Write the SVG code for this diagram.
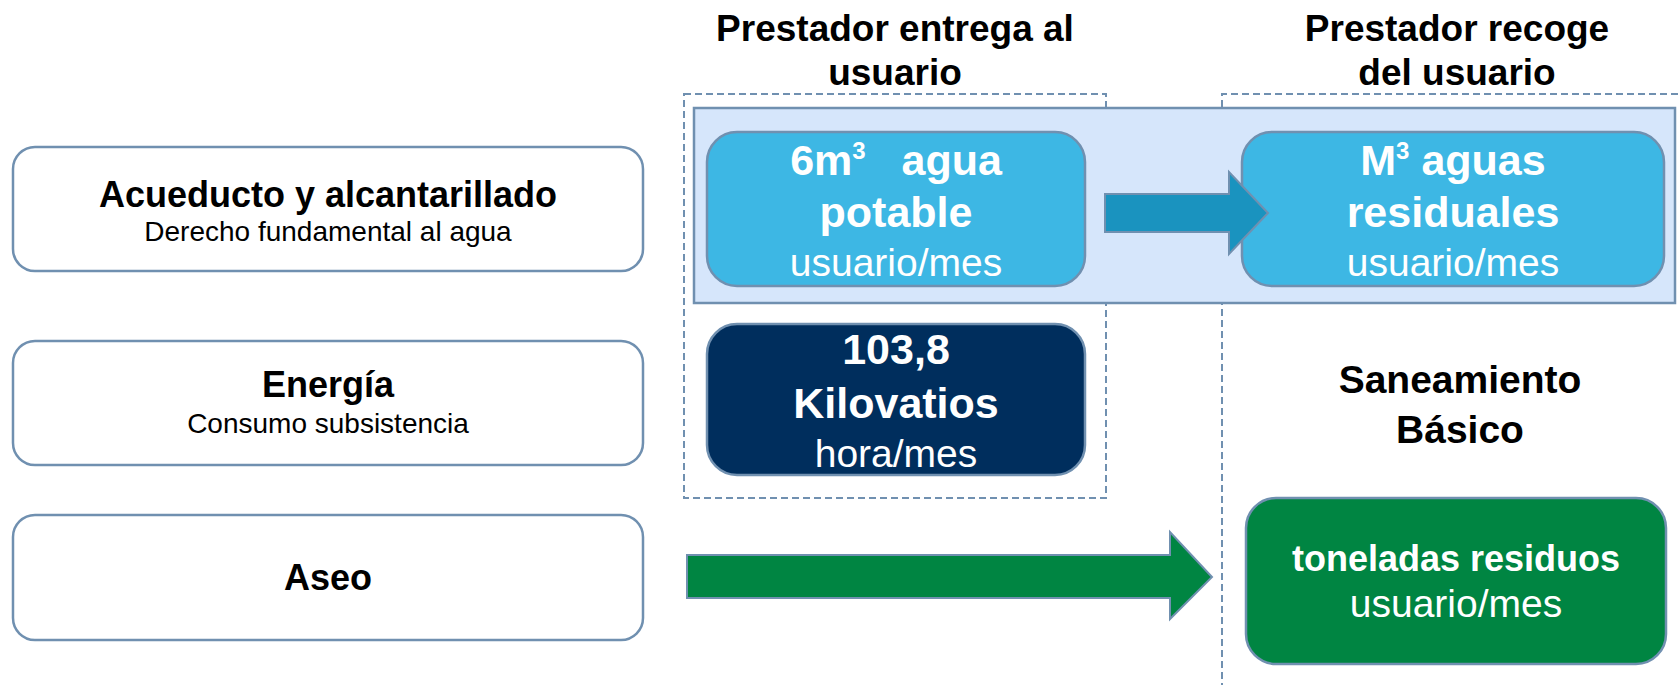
<svg xmlns="http://www.w3.org/2000/svg" width="1680" height="685" viewBox="0 0 1680 685">
<style>
.wb{fill:#ffffff;stroke:#7090b0;stroke-width:2.5}
.dash{fill:none;stroke:#7090b0;stroke-width:2;stroke-dasharray:7,4}
.b{font-family:"Liberation Sans",Arial,sans-serif;font-weight:bold;text-anchor:middle}
.r{font-family:"Liberation Sans",Arial,sans-serif;text-anchor:middle}
.k{fill:#000000}
.w{fill:#ffffff}
</style>
<rect width="1680" height="685" fill="#ffffff"/>
<g id="header1"><text class="b k" x="895" y="41" font-size="37">Prestador entrega al</text><text class="b k" x="895" y="85" font-size="37">usuario</text></g>
<g id="header2"><text class="b k" x="1457" y="41" font-size="37">Prestador recoge</text><text class="b k" x="1457" y="85" font-size="37">del usuario</text></g>
<g id="group-entrega"><rect class="dash" x="684" y="94" width="422" height="404"/></g>
<g id="group-recoge"><path class="dash" d="M1222,690 V94 H1685"/></g>
<g id="acueducto-band"><rect x="694" y="108" width="981" height="195" fill="#d6e6fb" stroke="#7090b0" stroke-width="2.5"/></g>
<g id="acueducto"><rect class="wb" x="13" y="147" width="630" height="124" rx="22"/><text class="b k" x="328" y="207" font-size="36">Acueducto y alcantarillado</text><text class="r k" x="328" y="241" font-size="28">Derecho fundamental al agua</text></g>
<g id="energia"><rect class="wb" x="13" y="341" width="630" height="124" rx="22"/><text class="b k" x="328" y="397" font-size="36">Energía</text><text class="r k" x="328" y="433" font-size="28">Consumo subsistencia</text></g>
<g id="aseo"><rect class="wb" x="13" y="515" width="630" height="125" rx="22"/><text class="b k" x="328" y="590" font-size="36">Aseo</text></g>
<g id="agua-potable"><rect x="707" y="132" width="378" height="154" rx="30" fill="#3db7e4" stroke="#7090b0" stroke-width="2.5"/><text class="b w" x="896" y="175" font-size="43">6m<tspan font-size="24" dy="-16">3</tspan><tspan dy="16" xml:space="preserve">   agua</tspan></text><text class="b w" x="896" y="227" font-size="43">potable</text><text class="r w" x="896" y="276" font-size="39">usuario/mes</text></g>
<g id="aguas-residuales"><rect x="1242" y="132" width="422" height="154" rx="30" fill="#3db7e4" stroke="#7090b0" stroke-width="2.5"/><text class="b w" x="1453" y="175" font-size="43">M<tspan font-size="24" dy="-16">3</tspan><tspan dy="16" xml:space="preserve"> aguas</tspan></text><text class="b w" x="1453" y="227" font-size="43">residuales</text><text class="r w" x="1453" y="276" font-size="39">usuario/mes</text></g>
<g id="energia-kwh"><rect x="707" y="324" width="378" height="151" rx="30" fill="#002e5d" stroke="#7090b0" stroke-width="2.5"/><text class="b w" x="896" y="364" font-size="43">103,8</text><text class="b w" x="896" y="418" font-size="43">Kilovatios</text><text class="r w" x="896" y="467" font-size="39">hora/mes</text></g>
<g id="saneamiento"><text class="b k" x="1460" y="393" font-size="39">Saneamiento</text><text class="b k" x="1460" y="443" font-size="39">Básico</text></g>
<g id="residuos"><rect x="1246" y="498" width="420" height="166" rx="30" fill="#008542" stroke="#7090b0" stroke-width="2.5"/><text class="b w" x="1456" y="571" font-size="36">toneladas residuos</text><text class="r w" x="1456" y="617" font-size="39">usuario/mes</text></g>
<g id="connectors">
<path d="M1105,194 H1229 V172 L1268,213 L1229,254 V232 H1105 Z" fill="#1a93bf" stroke="#7090b0" stroke-width="2"/>
<path d="M687,555 H1170 V532 L1212,577 L1170,619 V598 H687 Z" fill="#008542" stroke="#7090b0" stroke-width="2"/>
</g>
</svg>
